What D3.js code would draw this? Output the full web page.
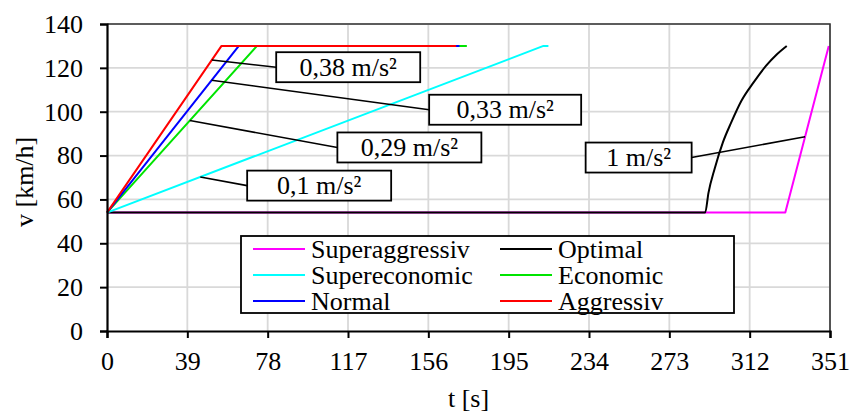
<!DOCTYPE html>
<html>
<head>
<meta charset="utf-8">
<script src="https://cdn.jsdelivr.net/npm/d3@7"></script>
<style>
  html, body { margin: 0; padding: 0; background: #fff; }
  svg { display: block; }
</style>
</head>
<body>
<svg id="chart" width="850" height="414"></svg>
<script>
// Speed profiles: time t [s] and speed v [km/h]
const seriesNames = ["Superaggressiv", "Optimal", "Supereconomic", "Economic", "Normal", "Aggressiv"];

const superaggressivT = [0, 329.3, 350.4];
const superaggressivV = [54, 54, 130];

const optimalT = [0, 290.4, 292.0, 295.0, 299.0, 303.0, 308.0, 314.0, 320.0, 325.0, 330.0];
const optimalV = [54, 54, 63.0, 74.0, 86.0, 95.0, 105.0, 113.5, 121.0, 126.0, 130.0];

const supereconomicT = [0, 211.9, 214.3];
const supereconomicV = [54, 130, 130];

const economicT = [0, 72.8, 174.7];
const economicV = [54, 130, 130];

const normalT = [0, 64.0, 171.1];
const normalV = [54, 130, 130];

const aggressivT = [0, 55.6, 169.5];
const aggressivV = [54, 130, 130];

const xTicks = [0, 39, 78, 117, 156, 195, 234, 273, 312, 351];
const yTicks = [0, 20, 40, 60, 80, 100, 120, 140];

// Acceleration callouts: label, series it points at, time of the pointed spot
const calloutText = ["0,38 m/s²", "0,33 m/s²", "0,29 m/s²", "0,1 m/s²", "1 m/s²"];
const calloutSeries = ["Aggressiv", "Normal", "Economic", "Supereconomic", "Superaggressiv"];
const calloutAtT = [50.9, 50.8, 40.2, 45.3, 338.9];

// Callout box placement (box centre in data units, box width in px)
const calloutLayout = [
  { t: 117.1, v: 120.3, w: 144 },
  { t: 193.3, v: 100.9, w: 152 },
  { t: 146.8, v: 83.7,  w: 144 },
  { t: 103.0, v: 66.3,  w: 144 },
  { t: 258.1, v: 79.1,  w: 106 }
];

const colors = {
  "Superaggressiv": "#ff00ff",
  "Optimal": "#000000",
  "Supereconomic": "#00ffff",
  "Economic": "#00e400",
  "Normal": "#0000ff",
  "Aggressiv": "#ff0000"
};

const seriesData = {
  "Superaggressiv": d3.zip(superaggressivT, superaggressivV),
  "Optimal": d3.zip(optimalT, optimalV),
  "Supereconomic": d3.zip(supereconomicT, supereconomicV),
  "Economic": d3.zip(economicT, economicV),
  "Normal": d3.zip(normalT, normalV),
  "Aggressiv": d3.zip(aggressivT, aggressivV)
};

const W = 850, H = 414;
const margin = { left: 107, right: 20, top: 24, bottom: 83 };
const svg = d3.select("#chart");
const FS = 26;
const SERIF = "Liberation Serif";

// Apply the serif face to a text selection
function serif(sel) {
  sel.attr("font-family", SERIF).style("font-family", "'Liberation Serif'");
}

const x = d3.scaleLinear().domain([0, 351]).range([margin.left, W - margin.right]);
const y = d3.scaleLinear().domain([0, 140]).range([H - margin.bottom, margin.top]);

// Gridlines
const grid = svg.append("g");
grid.selectAll("line.vg").data(xTicks.slice(1)).join("line")
  .attr("x1", d => x(d)).attr("x2", d => x(d))
  .attr("y1", y(0)).attr("y2", y(140))
  .attr("stroke", "#d9d9d9").attr("stroke-width", 1.8);
grid.selectAll("line.hg").data(yTicks.slice(1)).join("line")
  .attr("x1", x(0)).attr("x2", x(351))
  .attr("y1", d => y(d)).attr("y2", d => y(d))
  .attr("stroke", "#d9d9d9").attr("stroke-width", 1.8);

// Series lines
const line = d3.line().x(d => x(d[0])).y(d => y(d[1]));
const lineCurved = d3.line().x(d => x(d[0])).y(d => y(d[1])).curve(d3.curveMonotoneX);
seriesNames.forEach(name => {
  svg.append("path")
    .datum(seriesData[name])
    .attr("d", name === "Optimal" ? lineCurved : line)
    .attr("fill", "none")
    .attr("stroke", colors[name])
    .attr("stroke-width", 2)
    .attr("stroke-linejoin", "round");
});

// Plot frame (top and right)
svg.append("path")
  .attr("d", `M${x(0)},${y(140)}H${x(351)}V${y(0)}`)
  .attr("fill", "none").attr("stroke", "#333").attr("stroke-width", 1.6);

// Axes
const xAxis = svg.append("g")
  .attr("transform", `translate(0,${y(0)})`)
  .call(d3.axisBottom(x).tickValues(xTicks).tickSize(7).tickPadding(14).tickFormat(d3.format("d")));
const yAxis = svg.append("g")
  .attr("transform", `translate(${x(0)},0)`)
  .call(d3.axisLeft(y).tickValues(yTicks).tickSize(7).tickPadding(17).tickFormat(d3.format("d")));
[xAxis, yAxis].forEach(g => {
  g.attr("font-family", SERIF).attr("font-size", FS);
  g.select(".domain").attr("stroke", "#000").attr("stroke-width", 2.2);
  g.selectAll(".tick line").attr("stroke", "#000").attr("stroke-width", 2);
  g.selectAll(".tick text").call(serif).attr("font-size", FS).attr("fill", "#000");
});

// Axis titles
svg.append("text").call(serif)
  .attr("x", x(175.5)).attr("y", 407)
  .attr("text-anchor", "middle").attr("font-size", FS)
  .text("t [s]");
svg.append("text").call(serif)
  .attr("transform", `translate(33,${y(68)}) rotate(-90)`)
  .attr("text-anchor", "middle").attr("font-size", FS)
  .text("v [km/h]");

// Speed of a series at time t (linear between stored points)
function speedAt(name, t) {
  const pts = seriesData[name];
  for (let i = 1; i < pts.length; i++) {
    if (t <= pts[i][0]) {
      const [t0, v0] = pts[i - 1], [t1, v1] = pts[i];
      return v0 + (v1 - v0) * (t - t0) / (t1 - t0);
    }
  }
  return pts[pts.length - 1][1];
}

// Callouts
const boxH = 30;
calloutText.forEach((txt, i) => {
  const lay = calloutLayout[i];
  const ax = x(calloutAtT[i]);
  const ay = y(speedAt(calloutSeries[i], calloutAtT[i]));
  const cx = x(lay.t), cy = y(lay.v);
  const left = cx - lay.w / 2, right = cx + lay.w / 2;
  const ex = ax < left ? left : right;
  svg.append("line")
    .attr("x1", ax).attr("y1", ay).attr("x2", ex).attr("y2", cy)
    .attr("stroke", "#000").attr("stroke-width", 1.6);
  svg.append("rect")
    .attr("x", left).attr("y", cy - boxH / 2)
    .attr("width", lay.w).attr("height", boxH)
    .attr("fill", "#fff").attr("stroke", "#000").attr("stroke-width", 1.8);
  svg.append("text").call(serif)
    .attr("x", cx).attr("y", cy + 8.5)
    .attr("text-anchor", "middle").attr("font-size", FS)
    .text(txt);
});

// Legend
const lg = svg.append("g");
lg.append("rect")
  .attr("x", 241).attr("y", 236).attr("width", 493).attr("height", 77)
  .attr("fill", "#fff").attr("stroke", "#000").attr("stroke-width", 1.8);
seriesNames.forEach((name, i) => {
  const col = i % 2, row = Math.floor(i / 2);
  const lx = col === 0 ? 253 : 500;
  const ly = 249 + row * 26;
  lg.append("line")
    .attr("x1", lx).attr("x2", lx + 52).attr("y1", ly).attr("y2", ly)
    .attr("stroke", colors[name]).attr("stroke-width", 2);
  lg.append("text").call(serif)
    .attr("x", lx + 58).attr("y", ly + 8.5)
    .attr("font-size", FS)
    .text(name);
});
</script>
</body>
</html>
